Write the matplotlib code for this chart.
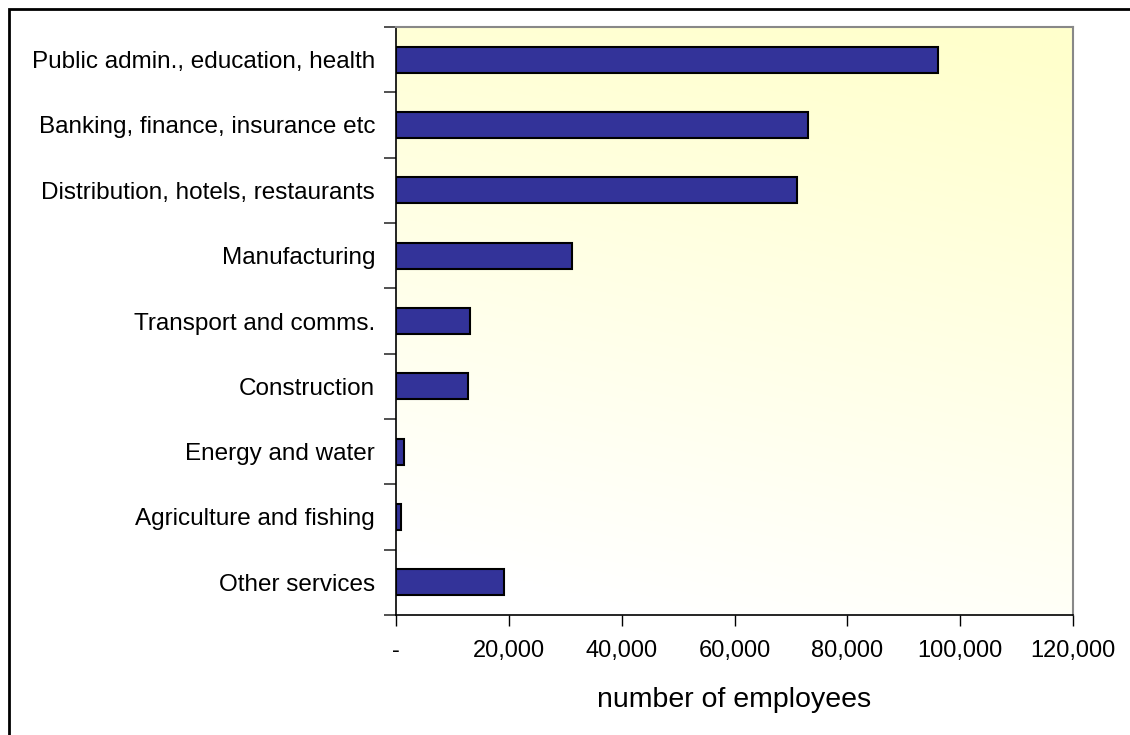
#!/usr/bin/env python3
"""Employees by industry sector, horizontal bar chart."""
import matplotlib
matplotlib.use("Agg")
import matplotlib.pyplot as plt
import matplotlib.ticker as ticker
from matplotlib.patches import Rectangle
import numpy as np

plt.rcParams["font.family"] = ["Liberation Sans", "DejaVu Sans"]

# ---------- data (top to bottom) ----------
sectors = [
    "Public admin., education, health",
    "Banking, finance, insurance etc",
    "Distribution, hotels, restaurants",
    "Manufacturing",
    "Transport and comms.",
    "Construction",
    "Energy and water",
    "Agriculture and fishing",
    "Other services",
]
employees = [96000, 73000, 71000, 31200, 13100, 12800, 1500, 900, 19100]
x_ticks = [0, 20000, 40000, 60000, 80000, 100000, 120000]


def fmt(v, _pos):
    return "-" if v == 0 else f"{v:,.0f}"


fig = plt.figure(figsize=(11.3, 7.35), dpi=100)
ax = fig.add_axes([396 / 1130, 1 - 615 / 735, 677 / 1130, 588 / 735])

# background gradient: pale yellow top-right fading to white bottom-left
u, v = np.meshgrid(np.linspace(0, 1, 200), np.linspace(0, 1, 200))
t = np.clip(0.9 * v + 0.25 * u - 0.1, 0, 1)[..., None]
white = np.array([1.0, 1.0, 1.0])
yellow = np.array([1.0, 1.0, 0.80])
img = white * (1 - t) + yellow * t
ax.imshow(img, extent=[0, 1, 0, 1], origin="lower", aspect="auto",
          transform=ax.transAxes, zorder=0)

n = len(sectors)
pos = np.arange(n)[::-1]
ax.barh(pos, employees, height=0.4, color="#333399", edgecolor="black",
        linewidth=1.5, zorder=2)

ax.set_xlim(0, 120000)
ax.set_ylim(-0.5, n - 0.5)
ax.set_xticks(x_ticks)
ax.xaxis.set_major_formatter(ticker.FuncFormatter(fmt))
ax.set_yticks(pos)
ax.set_yticklabels(sectors, fontsize=17.5)
ax.set_yticks(np.arange(-0.5, n), minor=True)
ax.tick_params(axis="y", which="major", length=0, pad=15)
ax.tick_params(axis="y", which="minor", length=9, width=1.2, color="#333333")
ax.tick_params(axis="x", length=8, width=1, labelsize=17, pad=10,
               color="black")
ax.set_xlabel("number of employees", fontsize=20.5, labelpad=18)

for side in ("top", "right"):
    ax.spines[side].set_color("#888888")
    ax.spines[side].set_linewidth(1.5)
for side in ("left", "bottom"):
    ax.spines[side].set_color("black")
    ax.spines[side].set_linewidth(1.2)

# outer chart border (runs off the bottom/right edge)
fig.patches.append(Rectangle((9 / 1130, -0.1), 1.2, 1 - 9 / 735 + 0.1,
                             transform=fig.transFigure, fill=False,
                             edgecolor="black", linewidth=2))

fig.savefig("out.png", dpi=100)
